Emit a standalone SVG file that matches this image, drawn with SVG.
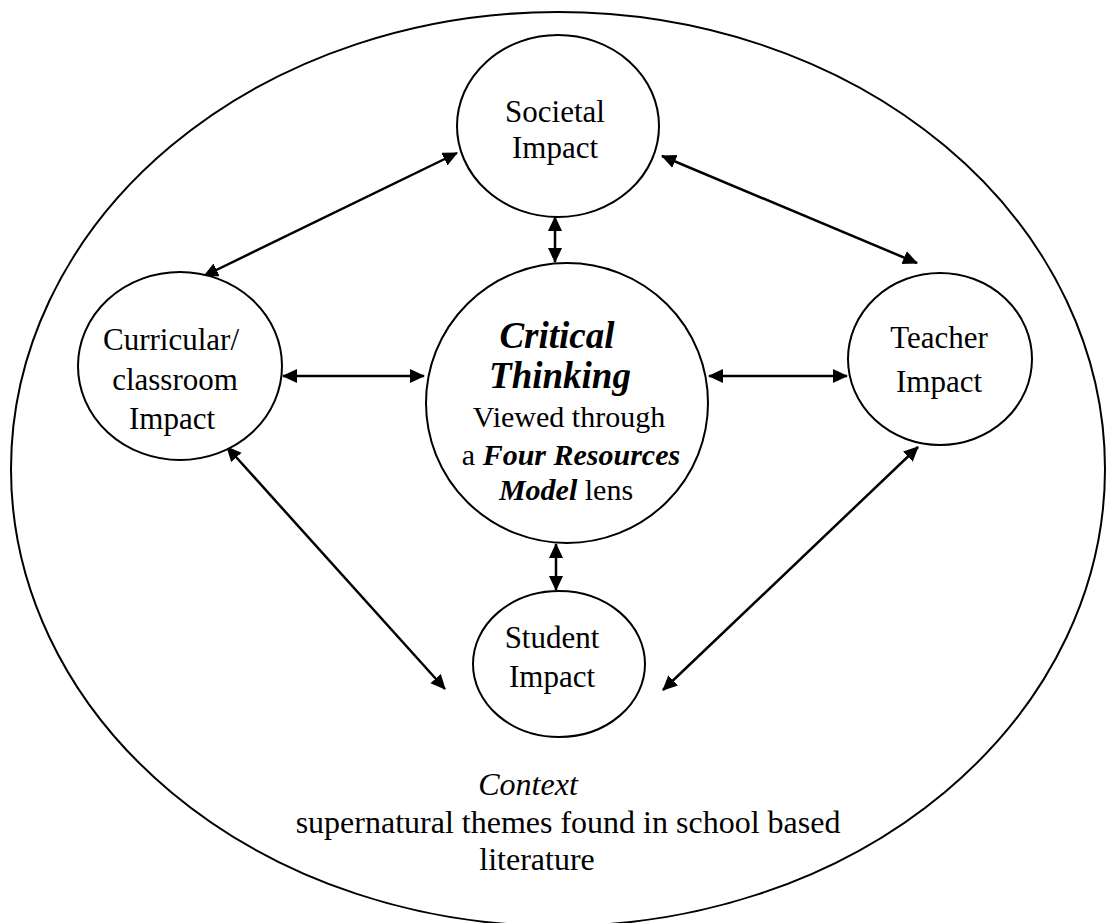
<svg xmlns="http://www.w3.org/2000/svg" width="1107" height="923" viewBox="0 0 1107 923">
  <style>
    .ring { fill: none; stroke: #000; stroke-width: 2; }
    .node { fill: #fff; stroke: #000; stroke-width: 2; }
    .link { stroke: #000; stroke-width: 2.5; fill: none; marker-start: url(#head); marker-end: url(#head); }
    text { font-family: "Liberation Serif", "Times New Roman", serif; font-size: 31px; fill: #000; text-anchor: middle; }
    .core { font-size: 30px; }
    .ctx { font-size: 32px; }
    .bi { font-weight: bold; font-style: italic; }
    .big { font-size: 37px; }
    .it { font-style: italic; }
  </style>
  <defs>
    <marker id="head" markerUnits="userSpaceOnUse" markerWidth="16" markerHeight="16" refX="14" refY="7" orient="auto-start-reverse">
      <path d="M0,0 L15,7 L0,14 Z" fill="#000"/>
    </marker>
  </defs>
  <rect width="1107" height="923" fill="#fff"/>

  <!-- context boundary -->
  <g id="context">
    <ellipse class="ring" cx="558" cy="469" rx="547" ry="457"/>
    <text x="528" y="795" class="ctx it">Context</text>
    <text x="568" y="833" class="ctx">supernatural themes found in school based</text>
    <text x="537" y="870" class="ctx">literature</text>
  </g>

  <!-- connectors -->
  <g id="connectors">
    <line class="link" x1="204" y1="276" x2="457" y2="153"/>
    <line class="link" x1="662" y1="156" x2="917" y2="263"/>
    <line class="link" x1="555" y1="217" x2="555" y2="262"/>
    <line class="link" x1="283" y1="376" x2="424" y2="376"/>
    <line class="link" x1="709" y1="376" x2="847" y2="376"/>
    <line class="link" x1="556" y1="544" x2="556" y2="590"/>
    <line class="link" x1="227" y1="447" x2="445" y2="689"/>
    <line class="link" x1="918" y1="447" x2="663" y2="690"/>
  </g>

  <g id="societal">
    <ellipse class="node" cx="558" cy="126" rx="101" ry="91"/>
    <text x="555" y="122">Societal</text>
    <text x="555" y="158">Impact</text>
  </g>

  <g id="curricular">
    <ellipse class="node" cx="180" cy="366" rx="102" ry="94"/>
    <text x="171" y="350">Curricular/</text>
    <text x="175" y="390">classroom</text>
    <text x="172" y="429">Impact</text>
  </g>

  <g id="critical-thinking">
    <ellipse class="node" cx="567" cy="403" rx="141" ry="140"/>
    <text x="557" y="348" class="bi big">Critical</text>
    <text x="560" y="388" class="bi big">Thinking</text>
    <text x="569" y="427" class="core">Viewed through</text>
    <text x="571" y="465" class="core">a <tspan class="bi">Four Resources</tspan></text>
    <text x="566" y="500" class="core"><tspan class="bi">Model</tspan> lens</text>
  </g>

  <g id="teacher">
    <ellipse class="node" cx="940" cy="359" rx="92" ry="86"/>
    <text x="939" y="348">Teacher</text>
    <text x="939" y="392">Impact</text>
  </g>

  <g id="student">
    <ellipse class="node" cx="559" cy="664" rx="86" ry="73"/>
    <text x="552" y="648">Student</text>
    <text x="552" y="687">Impact</text>
  </g>
</svg>
